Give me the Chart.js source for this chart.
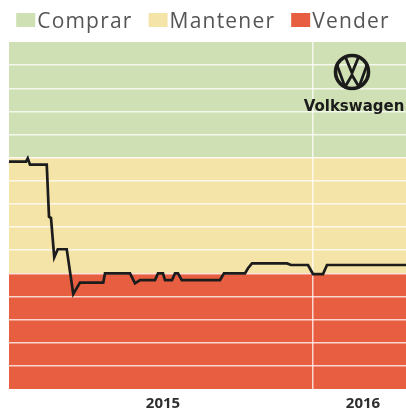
<!DOCTYPE html>
<html>
<head>
<meta charset="utf-8">
<script src="https://cdn.jsdelivr.net/npm/chart.js@4"></script>
<style>
  body { margin: 0; background: #ffffff; }
  #wrap { width: 406px; height: 414px; }
</style>
</head>
<body>
<div id="wrap"><canvas id="chart" width="406" height="414"></canvas></div>
<script>
// Meses desde enero 2015
const months = [-0.16, 0.52, 0.59, 0.68, 1.35, 1.44, 1.52, 1.65, 1.79, 2.15, 2.41, 2.68, 3.61, 3.68,
  4.68, 4.88, 5.08, 5.68, 5.80, 6.00, 6.08, 6.36, 6.48, 6.60, 6.75, 8.28, 8.44, 9.28, 9.40, 9.56,
  10.96, 11.12, 11.80, 12.00, 12.40, 12.56, 15.72];
// Recomendación media (0-5 vender, 5-10 mantener, 10-15 comprar)
const rating = [9.83, 9.83, 9.97, 9.70, 9.70, 7.45, 7.39, 5.69, 6.04, 6.04, 4.11, 4.60, 4.60, 5.00,
  5.00, 4.57, 4.71, 4.71, 5.00, 5.00, 4.71, 4.71, 5.00, 5.00, 4.71, 4.71, 5.00, 5.00, 5.22, 5.43,
  5.43, 5.36, 5.36, 4.97, 4.97, 5.36, 5.36];

const bandNames = ['Comprar', 'Mantener', 'Vender'];
const bandColors = ['#cfe0b4', '#f5e4a8', '#e85e41'];
const bandFrom = [10, 5, 0];
const bandTo = [15, 10, 5];

const yearTicks = [6, 12, 14];
const yearLabels = ['2015', '', '2016'];
const yearBoundary = 12;

// Fondo de bandas por zona
const bandsPlugin = {
  id: 'bands',
  beforeDraw(chart) {
    const { ctx, chartArea: a, scales: { y } } = chart;
    ctx.save();
    bandNames.forEach((n, i) => {
      const top = y.getPixelForValue(bandTo[i]);
      const bottom = y.getPixelForValue(bandFrom[i]);
      ctx.fillStyle = bandColors[i];
      ctx.fillRect(a.left, top, a.right - a.left, bottom - top);
    });
    ctx.restore();
  }
};

// Leyenda: cuadro pegado al texto
const legendPlugin = {
  id: 'bandLegend',
  afterDraw(chart) {
    const { ctx, width } = chart;
    const box = 19, boxH = 14, gap = 2, between = 16;
    ctx.save();
    ctx.font = '21px "Open Sans"';
    ctx.letterSpacing = '1.2px';
    ctx.textBaseline = 'alphabetic';
    const widths = bandNames.map(n => ctx.measureText(n).width);
    const total = widths.reduce((s, w) => s + box + gap + w, 0) + between * (bandNames.length - 1);
    let x = (width - total) / 2;
    bandNames.forEach((n, i) => {
      ctx.fillStyle = bandColors[i];
      ctx.fillRect(x, 13, box, boxH);
      ctx.fillStyle = '#555555';
      ctx.fillText(n, x + box + gap, 27.5);
      x += box + gap + widths[i] + between;
    });
    ctx.restore();
  }
};

// Logo Volkswagen
const logoPlugin = {
  id: 'logo',
  afterDatasetsDraw(chart) {
    const { ctx } = chart;
    const cx = 352, cy = 72, r = 16.5;
    ctx.save();
    ctx.strokeStyle = '#1b1b1b';
    ctx.lineWidth = 3.6;
    ctx.beginPath();
    ctx.arc(cx, cy, r, 0, Math.PI * 2);
    ctx.stroke();
    ctx.beginPath();
    ctx.arc(cx, cy, r - 1, 0, Math.PI * 2);
    ctx.clip();
    ctx.lineWidth = 2.8;
    ctx.lineJoin = 'miter';
    ctx.beginPath();
    ctx.moveTo(cx - 7, cy - 16);
    ctx.lineTo(cx, cy + 1);
    ctx.lineTo(cx + 7, cy - 16);
    ctx.stroke();
    ctx.beginPath();
    ctx.moveTo(cx - 15, cy - 7);
    ctx.lineTo(cx - 7, cy + 15);
    ctx.lineTo(cx, cy + 3);
    ctx.lineTo(cx + 7, cy + 15);
    ctx.lineTo(cx + 15, cy - 7);
    ctx.stroke();
    ctx.restore();
    ctx.save();
    ctx.fillStyle = '#1b1b1b';
    ctx.font = 'bold 15px "DejaVu Sans"';
    ctx.textAlign = 'center';
    ctx.textBaseline = 'alphabetic';
    ctx.fillText('Volkswagen', 354, 111);
    ctx.restore();
  }
};

new Chart(document.getElementById('chart'), {
  type: 'line',
  data: {
    datasets: [{
      label: 'VW',
      data: months.map((m, i) => ({ x: m, y: rating[i] })),
      borderColor: '#1c1c1c',
      borderWidth: 2.7,
      pointRadius: 0,
      tension: 0,
      fill: false
    }]
  },
  options: {
    responsive: false,
    animation: false,
    layout: { padding: { left: 9, right: 0, top: 42, bottom: 0 } },
    plugins: {
      tooltip: { enabled: false },
      legend: { display: false }
    },
    scales: {
      x: {
        type: 'linear',
        min: months[0],
        max: months[months.length - 1],
        afterBuildTicks: (s) => { s.ticks = yearTicks.map(v => ({ value: v })); },
        afterFit: (s) => { s.height = 25; },
        ticks: {
          autoSkip: false,
          maxRotation: 0,
          padding: 6,
          color: '#2e2e2e',
          font: { family: '"Open Sans"', size: 15, weight: 'bold' },
          callback: (v) => yearLabels[yearTicks.indexOf(v)]
        },
        grid: {
          drawTicks: false,
          lineWidth: 1.5,
          color: (c) => c.tick && c.tick.value === yearBoundary ? 'rgba(255,255,255,0.75)' : 'transparent'
        },
        border: { display: false }
      },
      y: {
        min: 0,
        max: 15,
        ticks: { display: false, stepSize: 1 },
        grid: {
          drawTicks: false,
          lineWidth: 1.5,
          color: (c) => (c.tick.value === 0 || c.tick.value === 15) ? 'transparent' : 'rgba(255,255,255,0.75)'
        },
        border: { display: false }
      }
    }
  },
  plugins: [bandsPlugin, legendPlugin, logoPlugin]
});
</script>
</body>
</html>
